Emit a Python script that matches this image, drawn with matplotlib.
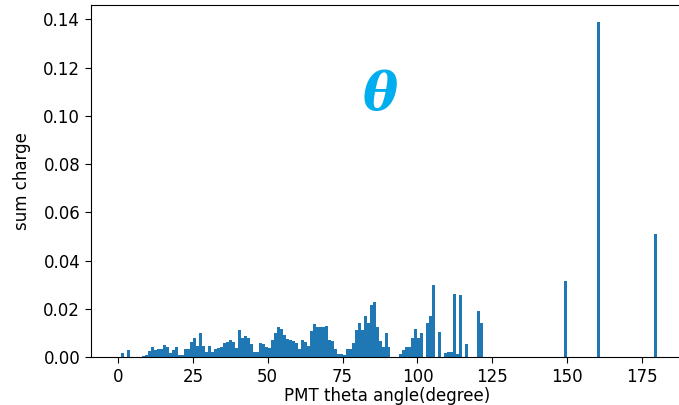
import numpy as np
import matplotlib
matplotlib.use('Agg')
import matplotlib.pyplot as plt

# sum charge per 1-degree theta bin (bin left edge -> value)
charge = {
    1: 0.0018, 3: 0.0028,
    8: 0.0004, 9: 0.0008, 10: 0.0025, 11: 0.0040, 12: 0.0029, 13: 0.0032,
    14: 0.0035, 15: 0.0048, 16: 0.0040, 17: 0.0018, 18: 0.0029, 19: 0.0040,
    20: 0.0007, 21: 0.0008, 22: 0.0032, 23: 0.0035, 24: 0.0063, 25: 0.0077,
    26: 0.0046, 27: 0.0098, 28: 0.0046, 29: 0.0022, 30: 0.0046, 31: 0.0022,
    32: 0.0032, 33: 0.0039, 34: 0.0040, 35: 0.0059, 36: 0.0063, 37: 0.0070,
    38: 0.0063, 39: 0.0036, 40: 0.0112, 41: 0.0077, 42: 0.0087, 43: 0.0077,
    44: 0.0054, 45: 0.0022, 46: 0.0022, 47: 0.0059, 48: 0.0054, 49: 0.0043,
    50: 0.0036, 51: 0.0070, 52: 0.0100, 53: 0.0123, 54: 0.0115, 55: 0.0091,
    56: 0.0075, 57: 0.0070, 58: 0.0068, 59: 0.0059, 60: 0.0032, 61: 0.0070,
    62: 0.0063, 63: 0.0046, 64: 0.0108, 65: 0.0137, 66: 0.0123, 67: 0.0123,
    68: 0.0123, 69: 0.0130, 70: 0.0070, 71: 0.0066, 72: 0.0033, 73: 0.0011,
    74: 0.0011, 75: 0.0010, 76: 0.0032, 77: 0.0032, 78: 0.0060, 79: 0.0112,
    80: 0.0140, 81: 0.0110, 82: 0.0170, 83: 0.0140, 84: 0.0215, 85: 0.0226,
    86: 0.0123, 87: 0.0068, 88: 0.0043, 89: 0.0100, 90: 0.0043,
    94: 0.0011, 95: 0.0029, 96: 0.0040, 97: 0.0040, 98: 0.0077, 99: 0.0116,
    100: 0.0077, 101: 0.0100, 103: 0.0142, 104: 0.0170, 105: 0.0300,
    107: 0.0103, 109: 0.0015, 110: 0.0019, 111: 0.0022, 112: 0.0260,
    113: 0.0012, 114: 0.0257, 116: 0.0054, 120: 0.0189, 121: 0.0140,
    149: 0.0315, 160: 0.1390, 179: 0.0510,
}

theta_bins = np.arange(0, 180)
sum_charge = np.array([charge.get(d, 0.0) for d in theta_bins])

plt.rcParams['font.size'] = 12

fig = plt.figure(figsize=(6.79, 4.05), dpi=100)
ax = fig.add_axes([91/679, 48/405, 593/679, 352/405])

ax.bar(theta_bins, sum_charge, width=1, align='edge', color='#1f77b4', linewidth=0)

ax.set_xlabel('PMT theta angle(degree)', labelpad=1)
ax.set_ylabel('sum charge', labelpad=9)
ax.tick_params(length=4.3)

ax.text(87.7, 0.1085, 'θ', color='#00aeef', fontsize=38, fontweight='bold',
        fontstyle='italic', family='DejaVu Serif', ha='center', va='center')

fig.savefig('out.png', dpi=100)
